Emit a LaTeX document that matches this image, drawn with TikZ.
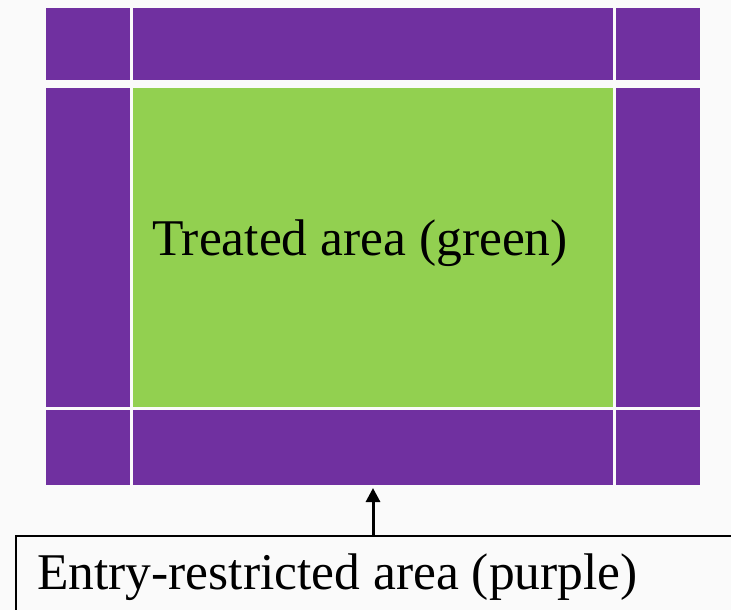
\documentclass[tikz,border=0pt]{standalone}
\usepackage{fontspec}
\setmainfont{Liberation Serif}
\usetikzlibrary{arrows.meta}
\definecolor{zonepurple}{HTML}{7030A0}
\definecolor{zonegreen}{HTML}{92D050}
\definecolor{bgpaper}{HTML}{FAFAFA}
\begin{document}
\begin{tikzpicture}[x=1bp,y=-1bp,
  cell/.style={rectangle, inner sep=0pt, outer sep=0pt, anchor=north west, fill=zonepurple},
  treated/.style={cell, fill=zonegreen},
  bigtext/.style={inner sep=0pt, anchor=base west, font=\fontsize{51.5bp}{60bp}\selectfont, text=black},
  labelbox/.style={rectangle, draw=black, line width=1.5bp, inner sep=0pt, anchor=north west, minimum width=740bp, minimum height=100bp},
  pointer/.style={line width=3bp, -{Triangle[length=14bp,width=14bp]}}
]
\clip (0,0) rectangle (731,610);
\fill[bgpaper] (0,0) rectangle (731,610);
% top row
\node[cell, minimum width=84bp, minimum height=72bp] (tl) at (46,8) {};
\node[cell, minimum width=480bp, minimum height=72bp] (tm) at (133,8) {};
\node[cell, minimum width=84bp, minimum height=72bp] (tr) at (616,8) {};
% middle row
\node[cell, minimum width=84bp, minimum height=319bp] (ml) at (46,88) {};
\node[treated, minimum width=480bp, minimum height=319bp] (mm) at (133,88) {};
\node[cell, minimum width=84bp, minimum height=319bp] (mr) at (616,88) {};
% bottom row
\node[cell, minimum width=84bp, minimum height=75bp] (bl) at (46,410) {};
\node[cell, minimum width=480bp, minimum height=75bp] (bm) at (133,410) {};
\node[cell, minimum width=84bp, minimum height=75bp] (br) at (616,410) {};
% texts
\node[bigtext] (treatedtext) at (152,255) {Treated area (green)};
\node[labelbox] (lbl) at (15,535) {};
\node[bigtext] (lbltext) at (37,589) {Entry-restricted area (purple)};
\draw[pointer, shorten >=3bp] (lbl.north -| bm.south) -- (bm.south);
\end{tikzpicture}
\end{document}
